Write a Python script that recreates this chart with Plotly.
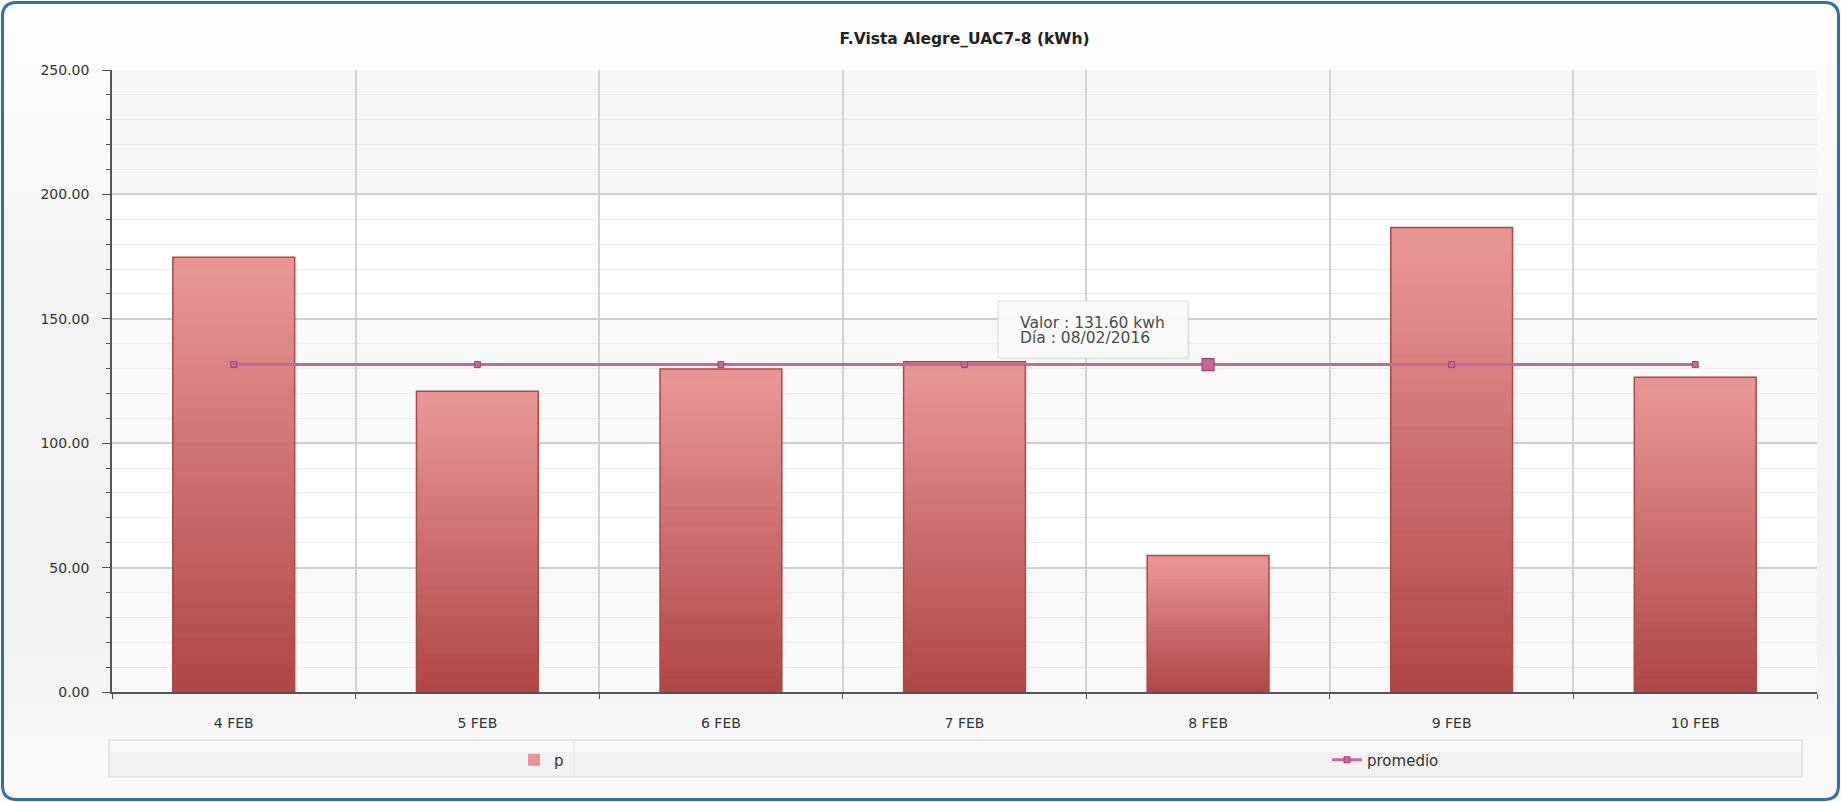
import plotly.graph_objects as go

# ---------------- data ----------------
categories = ["4 FEB", "5 FEB", "6 FEB", "7 FEB", "8 FEB", "9 FEB", "10 FEB"]
p_values = [174.7, 120.9, 129.8, 132.7, 54.9, 186.7, 126.5]
promedio = [131.6, 131.6, 131.6, 131.6, 131.6, 131.6, 131.6]
y_ticks = [0, 50, 100, 150, 200, 250]
title_text = "F.Vista Alegre_UAC7-8 (kWh)"
tooltip_lines = ["Valor : 131.60 kwh", "Día : 08/02/2016"]
highlight_index = 4

# ---------------- geometry helpers ----------------
FW, FH = 1841, 802
ML, MR, MT, MB = 112, 24, 70, 110
L, R, T, B = ML, FW - MR, MT, FH - MB
W, H = R - L, B - T


def px(x):
    return (x - L) / W


def py(y):
    return (B - y) / H


def lerp(a, b, t):
    return a + (b - a) * t


FONT = "DejaVu Sans"

fig = go.Figure()

# legend/base trace for p (full bar, top colour)
fig.add_trace(go.Bar(
    x=categories, y=p_values, name="p", legend="legend",
    marker=dict(color="#e99393", line=dict(width=0)),
    hoverinfo="skip",
))

# gradient rendering: nested bars from the base, each shorter one darker
N = 40
bottom_rgb = (176, 70, 70)
top_rgb = (234, 152, 152)
for k in range(1, N):
    frac = (N - k) / N
    t = (N - k - 0.5) / N
    col = "rgb(%d,%d,%d)" % tuple(int(round(lerp(bottom_rgb[c], top_rgb[c], t))) for c in range(3))
    fig.add_trace(go.Bar(
        x=categories,
        y=[v * frac for v in p_values],
        marker=dict(color=col, line=dict(width=0)),
        showlegend=False, hoverinfo="skip",
    ))

# outline of bars
fig.add_trace(go.Bar(
    x=categories, y=p_values, name="p",
    marker=dict(color="rgba(0,0,0,0)", line=dict(color="#b04646", width=1.5)),
    showlegend=False,
    hovertemplate="Valor : %{y:.2f} kwh<extra></extra>",
))

# promedio line
fig.add_trace(go.Scatter(
    x=categories, y=promedio, name="promedio", mode="lines+markers", legend="legend2",
    line=dict(color="#cc6699", width=3),
    marker=dict(symbol="square", size=6, color="#cc6699",
                line=dict(color="#9e4478", width=1)),
    hovertemplate="Valor : %{y:.2f} kwh<extra></extra>",
))

# highlighted point
fig.add_trace(go.Scatter(
    x=[categories[highlight_index]], y=[promedio[highlight_index]],
    mode="markers", showlegend=False, hoverinfo="skip",
    marker=dict(symbol="square", size=12, color="#c8649b",
                line=dict(color="#9e4478", width=1.2)),
))

shapes = []

# card background gradient strips
def bg_gray(y):
    if y < 300:
        return lerp(255, 243, y / 300)
    if y < 650:
        return lerp(243, 242, (y - 300) / 350)
    return lerp(242, 251, (y - 650) / 152)

step = 16
for y0 in range(0, FH, step):
    g = int(round(bg_gray(y0 + step / 2)))
    shapes.append(dict(type="rect", xref="paper", yref="paper",
                       x0=px(3), x1=px(FW - 3), y0=py(y0), y1=py(min(y0 + step, FH)),
                       fillcolor="rgb(%d,%d,%d)" % (g, g, g), line=dict(width=0),
                       layer="below"))

# plot bands
band_colors = ["#f9f9f9", "#ffffff", "#f9f9f9", "#ffffff", "#f7f7f7"]
for k in range(len(y_ticks) - 1):
    shapes.append(dict(type="rect", xref="paper", yref="y",
                       x0=0, x1=1, y0=y_ticks[k], y1=y_ticks[k + 1],
                       fillcolor=band_colors[k], line=dict(width=0), layer="below"))

# legend box
lx0, lx1, ly0, ly1, ldiv = 109, 1802, 740, 777, 574
shapes.append(dict(type="rect", xref="paper", yref="paper",
                   x0=px(lx0), x1=px(lx1), y0=py(ly1), y1=py(ly0),
                   fillcolor="#f1f1f1", line=dict(color="#d9d9d9", width=1.2),
                   layer="below"))
shapes.append(dict(type="rect", xref="paper", yref="paper",
                   x0=px(lx0 + 1), x1=px(lx1 - 1), y0=py(ly0 + 12), y1=py(ly0 + 1),
                   fillcolor="#f8f8f8", line=dict(width=0), layer="below"))
shapes.append(dict(type="line", xref="paper", yref="paper",
                   x0=px(ldiv), x1=px(ldiv), y0=py(ly1), y1=py(ly0),
                   line=dict(color="#e2e2e2", width=1), layer="below"))

# tooltip box
tx0, tx1, ty0, ty1 = 998, 1188, 301, 358
shapes.append(dict(type="rect", xref="paper", yref="paper",
                   x0=px(tx0 + 2), x1=px(tx1 + 2), y0=py(ty1 + 2), y1=py(ty0 + 2),
                   fillcolor="rgba(0,0,0,0.04)", line=dict(width=0), layer="above"))
shapes.append(dict(type="rect", xref="paper", yref="paper",
                   x0=px(tx0), x1=px(tx1), y0=py(ty1), y1=py(ty0),
                   fillcolor="rgba(250,250,250,0.97)", line=dict(color="#dadada", width=1),
                   layer="above"))

# rounded blue border
x0b, x1b, y0b, y1b, rr = 2.5, FW - 2.5, 2.5, FH - 2.5, 14
path = (
    f"M {px(x0b + rr)},{py(y0b)} L {px(x1b - rr)},{py(y0b)} "
    f"Q {px(x1b)},{py(y0b)} {px(x1b)},{py(y0b + rr)} "
    f"L {px(x1b)},{py(y1b - rr)} Q {px(x1b)},{py(y1b)} {px(x1b - rr)},{py(y1b)} "
    f"L {px(x0b + rr)},{py(y1b)} Q {px(x0b)},{py(y1b)} {px(x0b)},{py(y1b - rr)} "
    f"L {px(x0b)},{py(y0b + rr)} Q {px(x0b)},{py(y0b)} {px(x0b + rr)},{py(y0b)} Z"
)
shapes.append(dict(type="path", xref="paper", yref="paper", path=path,
                   line=dict(color="#2e6db8", width=3), fillcolor="rgba(0,0,0,0)",
                   layer="above"))

annotations = []
for i, line_text in enumerate(tooltip_lines):
    annotations.append(dict(
        x=px(1018), y=py(322.5 + 15 * i), xref="paper", yref="paper",
        text=line_text, showarrow=False, xanchor="left", yanchor="middle",
        font=dict(family=FONT, size=15.5, color="#4a4a4a"),
    ))

legend_common = dict(orientation="h", xanchor="left", yanchor="middle",
                     bgcolor="rgba(0,0,0,0)", borderwidth=0,
                     font=dict(family=FONT, size=15, color="#333333"))

fig.update_layout(
    width=FW, height=FH,
    margin=dict(l=ML, r=MR, t=MT, b=MB, pad=0),
    paper_bgcolor="white", plot_bgcolor="rgba(0,0,0,0)",
    barmode="overlay", bargap=0.5,
    title=dict(text="<b>" + title_text + "</b>", x=0.5, xref="paper",
               xanchor="center", y=1 - 38.7 / FH, yref="container", yanchor="middle",
               font=dict(family=FONT, size=15.5, color="#222222")),
    font=dict(family=FONT, size=14, color="#333333"),
    showlegend=True,
    legend=dict(x=px(514), y=py(760), **legend_common),
    legend2=dict(x=px(1327), y=py(760), **legend_common),
    shapes=shapes,
    annotations=annotations,
    hovermode="closest",
)

fig.update_xaxes(
    type="category", categoryorder="array", categoryarray=categories,
    tickson="boundaries", showgrid=True, gridcolor="#d2d2d2", gridwidth=1.5,
    ticks="outside", ticklen=5, tickcolor="#555555",
    showline=True, linecolor="#555555", linewidth=1.5,
    ticklabelstandoff=17, tickfont=dict(family=FONT, size=14, color="#333333"),
    range=[-0.5, len(categories) - 0.5], fixedrange=True,
)
fig.update_yaxes(
    range=[0, 250], tickvals=y_ticks, tickformat=".2f",
    ticks="outside", ticklen=8, tickcolor="#555555",
    showline=True, linecolor="#555555", linewidth=1.5,
    showgrid=True, gridcolor="#cfcfcf", gridwidth=1.5, zeroline=False,
    minor=dict(dtick=10, ticks="outside", ticklen=4, tickcolor="#555555",
               showgrid=True, gridcolor="#ececec", gridwidth=1),
    ticklabelstandoff=10, tickfont=dict(family=FONT, size=14, color="#333333"),
    fixedrange=True,
)

fig.write_html("out.html")
